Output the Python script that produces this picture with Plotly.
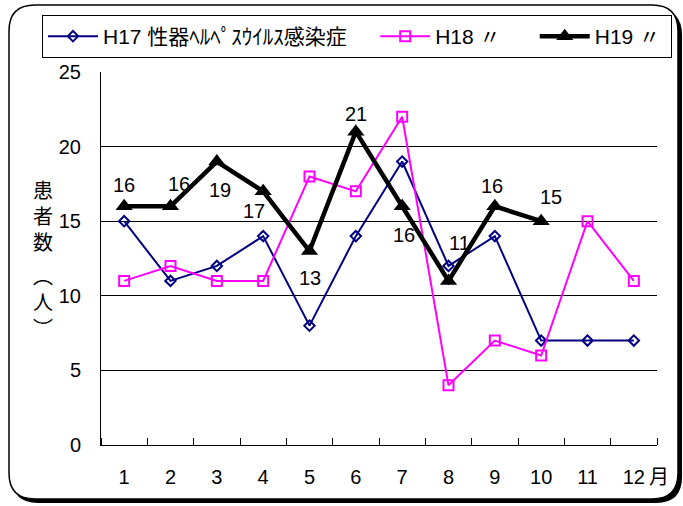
import plotly.graph_objects as go

# ---- data ----
months = [1, 2, 3, 4, 5, 6, 7, 8, 9, 10, 11, 12]
month_labels = ["1", "2", "3", "4", "5", "6", "7", "8", "9", "10", "11", "12"]
h17 = [15, 11, 12, 14, 8, 14, 19, 12, 14, 7, 7, 7]
h18 = [11, 12, 11, 11, 18, 17, 22, 4, 7, 6, 15, 11]
h19 = [16, 16, 19, 17, 13, 21, 16, 11, 16, 15]
name17 = "H17 性器ﾍﾙﾍﾟｽｳｲﾙｽ感染症"
name18 = "H18 〃"
name19 = "H19 〃"
y_title_top = "患<br>者<br>数"
y_title_unit = "︵<br>人<br>︶"
unit_label = "月"

# ---- layout geometry (pixels) ----
W, H = 683, 506
L, R, T, B = 101, 26, 72, 61
PW, PH = W - L - R, H - T - B


def px(x):
    return (x - L) / PW


def py(y):
    return (H - B - y) / PH


def rrect(x0, y0, x1, y1, r):
    rx, ry = r / PW, r / PH
    X0, X1, Y0, Y1 = px(x0), px(x1), py(y0), py(y1)
    return (f"M{X0+rx},{Y0} L{X1-rx},{Y0} Q{X1},{Y0} {X1},{Y0-ry} "
            f"L{X1},{Y1+ry} Q{X1},{Y1} {X1-rx},{Y1} L{X0+rx},{Y1} "
            f"Q{X0},{Y1} {X0},{Y1+ry} L{X0},{Y0-ry} Q{X0},{Y0} {X0+rx},{Y0} Z")


NB = "\u00a0"
FONT = "Liberation Sans, Arial, Noto Sans CJK JP, sans-serif"
CJK = "Noto Sans CJK JP"

fig = go.Figure()
fig.add_trace(go.Scatter(
    x=months, y=h17, name=name17 + NB * 4, mode="lines+markers",
    line=dict(color="#000080", width=2),
    marker=dict(symbol="diamond-open", size=8, color="#000080", line=dict(width=2)),
))
fig.add_trace(go.Scatter(
    x=months, y=h18, name=name18 + NB * 5, mode="lines+markers",
    line=dict(color="#FF00FF", width=2),
    marker=dict(symbol="square-open", size=10, color="#FF00FF", line=dict(width=2)),
))
fig.add_trace(go.Scatter(
    x=months[:len(h19)], y=h19, name=name19 + NB * 1, mode="lines+markers",
    line=dict(color="#000000", width=4.5),
    marker=dict(symbol="triangle-up", size=15, color="#000000"),
))

# data labels for H19 (pixel offsets per label)
label_offsets = [(0, 21), (8, 22), (3, -28), (-9, -20), (0, -27),
                 (0, 18), (2, -29), (11, 38), (-3, 20), (10, 24)]
annotations = []
for xm, v, (dx, dy) in zip(months, h19, label_offsets):
    annotations.append(dict(x=xm, y=v, xref="x", yref="y", text=str(v),
                            showarrow=False, xshift=dx, yshift=dy,
                            xanchor="center", yanchor="middle",
                            font=dict(size=20, color="#000", family=FONT)))

# month unit
annotations.append(dict(x=12, y=py(475), xref="x", yref="paper", text=unit_label,
                        showarrow=False, xshift=25, xanchor="center", yanchor="middle",
                        font=dict(size=20, color="#000", family=CJK)))

# vertical y-axis title
annotations.append(dict(x=px(43), y=py(215), xref="paper", yref="paper", text=y_title_top,
                        showarrow=False, xanchor="center", yanchor="middle",
                        font=dict(size=20, color="#000", family=CJK)))
annotations.append(dict(x=px(43), y=py(301), xref="paper", yref="paper", text=y_title_unit,
                        showarrow=False, xanchor="center", yanchor="middle",
                        font=dict(size=20, color="#000", family=CJK)))

shapes = [
    dict(type="path", path=rrect(12, 9, 682, 503, 26), xref="paper", yref="paper",
         fillcolor="#000", line=dict(width=0), layer="below"),
    dict(type="path", path=rrect(9, 5, 678, 499, 26), xref="paper", yref="paper",
         fillcolor="#fff", line=dict(color="#000", width=1.5), layer="below"),
]

fig.update_layout(
    width=W, height=H,
    margin=dict(l=L, r=R, t=T, b=B, pad=0),
    paper_bgcolor="#fff", plot_bgcolor="#fff",
    font=dict(family=FONT, size=19, color="#000"),
    showlegend=True,
    legend=dict(orientation="h", x=px(42), y=py(15), xanchor="left", yanchor="top",
                bordercolor="#000", borderwidth=1, bgcolor="#fff",
                font=dict(size=21, family=FONT), tracegroupgap=0,
                itemwidth=50),
    annotations=annotations,
    shapes=shapes,
)
fig.update_xaxes(
    range=[0.5, 12.5], tickmode="array", tickvals=months, ticktext=month_labels,
    ticks="outside", ticklen=14, tickcolor="rgba(0,0,0,0)",
    showline=True, linecolor="#000", linewidth=1, showgrid=False, zeroline=False,
    tickfont=dict(size=20),
    minor=dict(ticks="inside", tick0=0.5, dtick=1, ticklen=7, tickcolor="#000",
               tickwidth=1, showgrid=False),
)
fig.update_yaxes(
    range=[0, 25], tickmode="linear", tick0=0, dtick=5,
    ticks="outside", ticklen=15, tickcolor="rgba(0,0,0,0)",
    showline=True, linecolor="#000", linewidth=1,
    showgrid=True, gridcolor="#000", gridwidth=1, zeroline=False,
    tickfont=dict(size=20),
)

fig.write_html("out.html", config={"displayModeBar": False},
               post_script="document.body.style.margin='0';")
